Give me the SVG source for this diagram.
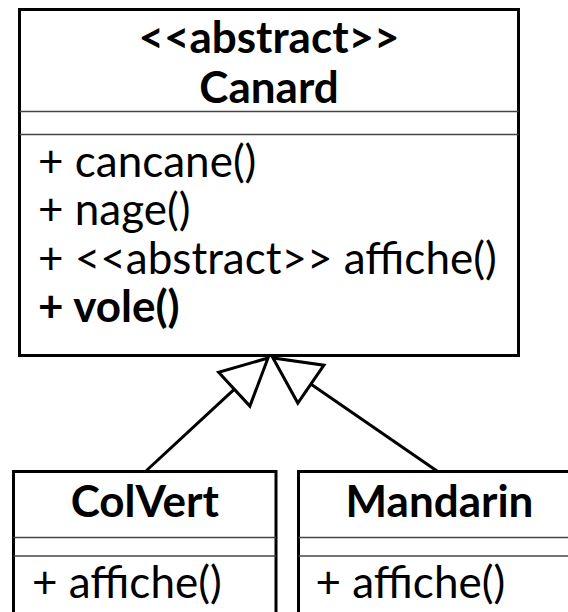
<svg xmlns="http://www.w3.org/2000/svg" width="568" height="612" viewBox="0 0 568 612">
<style>
  .box { fill: #fff; stroke: #000; stroke-width: 3; }
  .sep { stroke: #444; stroke-width: 1.5; }
  text { font-family: Lato, "Liberation Sans", sans-serif; font-size: 44px; fill: #000; }
  .title { font-weight: bold; text-anchor: middle; }
  .conn { fill: none; stroke: #000; stroke-width: 3; }
</style>
<defs>
  <marker id="gen" markerUnits="userSpaceOnUse" markerWidth="60" markerHeight="60" viewBox="-55 -30 60 60" refX="0" refY="0" orient="auto" overflow="visible">
    <path d="M0,0 L-46,-23 L-46,23 Z" fill="#fff" stroke="#000" stroke-width="3" stroke-linejoin="miter"/>
  </marker>
</defs>
<rect width="568" height="612" fill="#fff"/>
<g id="connectors">
  <path class="conn" d="M146,471 L268,358" marker-end="url(#gen)"/>
  <path class="conn" d="M437,471 L273,358" marker-end="url(#gen)"/>
</g>
<g id="Canard">
  <rect class="box" x="19.5" y="9.5" width="499" height="346"/>
  <text class="title" x="269" y="53">&lt;&lt;abstract&gt;&gt;</text>
  <text class="title" x="269" y="103">Canard</text>
  <line class="sep" x1="19.5" y1="111.5" x2="518.5" y2="111.5"/>
  <line class="sep" x1="19.5" y1="134.5" x2="518.5" y2="134.5"/>
  <text x="38" y="177">+ cancane()</text>
  <text x="38" y="225">+ nage()</text>
  <text x="38" y="274">+ &lt;&lt;abstract&gt;&gt; affiche()</text>
  <text x="38" y="322" font-weight="bold">+ vole()</text>
</g>
<g id="ColVert">
  <rect class="box" x="13.5" y="471.5" width="262.5" height="170"/>
  <text class="title" x="144.75" y="517">ColVert</text>
  <line class="sep" x1="13.5" y1="537.5" x2="276" y2="537.5"/>
  <line class="sep" x1="13.5" y1="556" x2="276" y2="556"/>
  <text x="32" y="598">+ affiche()</text>
</g>
<g id="Mandarin">
  <rect class="box" x="298.5" y="471.5" width="282" height="170"/>
  <text class="title" x="439.5" y="517">Mandarin</text>
  <line class="sep" x1="298.5" y1="537.5" x2="580" y2="537.5"/>
  <line class="sep" x1="298.5" y1="556" x2="580" y2="556"/>
  <text x="315.5" y="598">+ affiche()</text>
</g>
</svg>
